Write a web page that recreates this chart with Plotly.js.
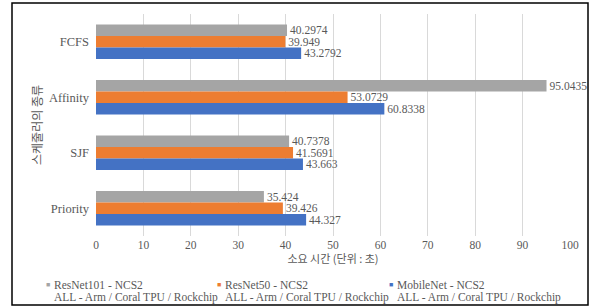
<!DOCTYPE html>
<html><head><meta charset="utf-8">
<script src="https://cdn.plot.ly/plotly-3.0.1.min.js"></script>
<style>html,body{margin:0;padding:0;background:#fff;}#chart{width:591px;height:307px;}</style>
</head><body><div id="chart"></div>
<script>
const categories = ["FCFS", "Affinity", "SJF", "Priority"];
const resnet101 = [40.2974, 95.0435, 40.7378, 35.424];
const resnet50 = [39.949, 53.0729, 41.5691, 39.426];
const mobilenet = [43.2792, 60.8338, 43.663, 44.327];
const seriesNames = ["ResNet101 - NCS2", "ResNet50 - NCS2", "MobileNet - NCS2"];
const seriesSub = "ALL - Arm / Coral TPU / Rockchip";
const colors = ["#a5a5a5", "#ed7d31", "#4472c4"];
const xTitle = "소요 시간 (단위 : 초)";
const yTitle = "스케줄러의 종류";

const FONT = "'Liberation Serif', 'DejaVu Serif', 'Noto Sans CJK KR', serif";
const KFONT = "'Noto Sans CJK KR', sans-serif";
const TXT = "#595959";

// plot area in pixels: x 96..570, y 14..236
const PX = px => (px - 96) / 474;
const PY = py => (236 - py) / 222;

const series = [resnet101, resnet50, mobilenet];
const traces = series.map((vals, i) => ({
  type: "bar",
  orientation: "h",
  y: categories,
  x: vals,
  name: seriesNames[i] + " " + seriesSub,
  marker: {color: colors[i]},
  text: vals.map(v => String(v)),
  textposition: "outside",
  cliponaxis: false,
  constraintext: "none",
  textfont: {family: FONT, size: 11.5, color: TXT},
  hoverinfo: "none",
  showlegend: false
}));

const legendX = [48, 219, 391];
const annotations = [];
seriesNames.forEach((nm, i) => {
  annotations.push({xref: "paper", yref: "paper", x: PX(legendX[i]), y: PY(285), xanchor: "center", yanchor: "middle",
    text: "■", showarrow: false, font: {family: FONT, size: 7, color: colors[i]}});
  annotations.push({xref: "paper", yref: "paper", x: PX(legendX[i] + 4), y: PY(285), xanchor: "left", yanchor: "middle",
    text: nm, showarrow: false, font: {family: FONT, size: 11.5, color: TXT}});
  annotations.push({xref: "paper", yref: "paper", x: PX(legendX[i] + 4), y: PY(297.5), xanchor: "left", yanchor: "middle",
    text: seriesSub, showarrow: false, font: {family: FONT, size: 11.5, color: TXT}});
});

const layout = {
  width: 591, height: 307,
  margin: {l: 96, r: 21, t: 14, b: 71},
  paper_bgcolor: "#fff", plot_bgcolor: "#fff",
  barmode: "group",
  bargap: 0.376,
  bargroupgap: 0,
  font: {family: FONT, color: TXT, size: 12},
  xaxis: {
    range: [0, 100], dtick: 10, tick0: 0,
    showgrid: true, gridcolor: "#d9d9d9", gridwidth: 1,
    zeroline: false, showline: false, ticks: "",
    tickfont: {family: FONT, size: 11.5, color: TXT},
    title: {text: xTitle, font: {family: KFONT, size: 11, color: TXT}, standoff: 1},
    automargin: false,
    fixedrange: true
  },
  yaxis: {
    type: "category",
    categoryorder: "array", categoryarray: categories,
    autorange: "reversed",
    showgrid: false, zeroline: false, showline: false, ticks: "",
    ticklabelstandoff: 6,
    tickfont: {family: FONT, size: 12.5, color: TXT},
    title: {text: yTitle, font: {family: KFONT, size: 12, color: TXT}, standoff: 3},
    automargin: false,
    fixedrange: true
  },
  annotations: annotations,
  shapes: [{
    type: "rect", xref: "paper", yref: "paper",
    x0: PX(12), x1: PX(588),
    y0: PY(305), y1: PY(3),
    line: {color: "#000", width: 1.5}, fillcolor: "rgba(0,0,0,0)", layer: "above"
  }],
  showlegend: false
};

Plotly.newPlot("chart", traces, layout, {displayModeBar: false, staticPlot: true});
</script>
</body></html>
